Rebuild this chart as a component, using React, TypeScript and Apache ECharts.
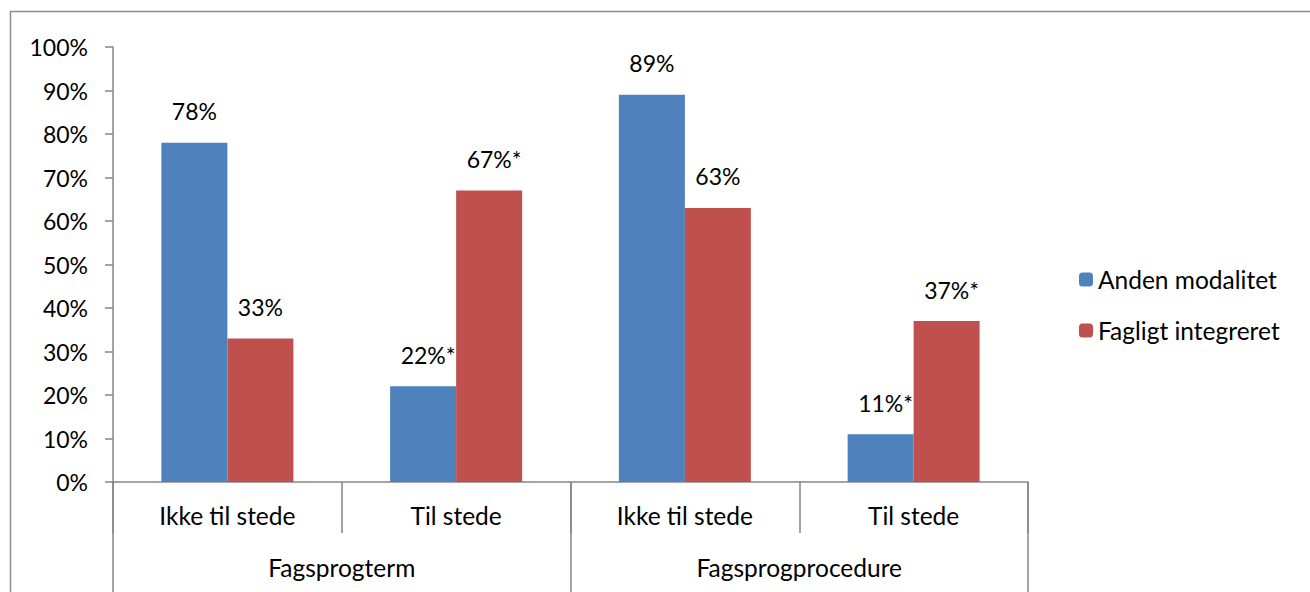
import React, { useEffect, useRef } from "react";
import * as echarts from "echarts";

// Sub-categories on the first axis row, groups on the second row
const subCategories = ["Ikke til stede", "Til stede", "Ikke til stede", "Til stede"];
const groupCategories = ["Fagsprogterm", "Fagsprogprocedure"];

// Share of answers (%) per sub-category
const andenModalitet = [78, 22, 89, 11];
const fagligtIntegreret = [33, 67, 63, 37];

// Significance markers appended to the value labels
const andenModalitetSig = ["", "*", "", "*"];
const fagligtIntegreretSig = ["", "*", "", "*"];

const yTicks = [0, 10, 20, 30, 40, 50, 60, 70, 80, 90, 100];

const FONT = "Lato";
const AXIS_GRAY = "#868686";
const NUM_SIZE = 23;
const WORD_SIZE = 24.5;

export default function App() {
  const ref = useRef<HTMLDivElement>(null);

  useEffect(() => {
    document.body.style.margin = "0";
    if (!ref.current) return;
    const chart = echarts.init(ref.current, undefined, { renderer: "svg" });

    const makeData = (values: number[], marks: string[]) =>
      values.map((v, i) => ({
        value: v,
        label: marks[i] ? { offset: [5, 0] } : {},
      }));

    const makeLabel = (marks: string[]) => ({
      show: true,
      position: "top",
      distance: 20,
      fontFamily: FONT,
      fontSize: NUM_SIZE,
      color: "#000",
      formatter: (p: any) => `${p.value}%${marks[p.dataIndex]}`,
    });

    chart.setOption({
      animation: false,
      textStyle: { fontFamily: FONT },
      graphic: [
        {
          type: "rect",
          silent: true,
          shape: { x: 10.5, y: 11.5, width: 1400, height: 700 },
          style: { fill: "none", stroke: "#8c8c8c", lineWidth: 1.5 },
        },
      ],
      legend: {
        orient: "vertical",
        left: 1079,
        top: 267,
        padding: 0,
        itemWidth: 14,
        itemHeight: 14,
        itemGap: 26,
        textStyle: { fontFamily: FONT, fontSize: WORD_SIZE, color: "#000" },
        data: ["Anden modalitet", "Fagligt integreret"],
      },
      grid: { left: 113, top: 47, right: 282, bottom: 110, containLabel: false },
      yAxis: {
        type: "value",
        min: yTicks[0],
        max: yTicks[yTicks.length - 1],
        interval: 10,
        axisLine: { show: true, lineStyle: { color: AXIS_GRAY, width: 1.5 } },
        axisTick: { show: true, length: 8, lineStyle: { color: AXIS_GRAY, width: 1.5 } },
        splitLine: { show: false },
        axisLabel: {
          margin: 25,
          fontFamily: FONT,
          fontSize: NUM_SIZE,
          color: "#000",
          formatter: (v: number) => `${v}%`,
        },
      },
      xAxis: [
        {
          type: "category",
          data: subCategories,
          position: "bottom",
          boundaryGap: true,
          axisLine: { show: true, lineStyle: { color: AXIS_GRAY, width: 1.5 } },
          axisTick: { show: true, interval: 0, length: 51, lineStyle: { color: AXIS_GRAY, width: 1.5 } },
          axisLabel: { interval: 0, margin: 21, fontFamily: FONT, fontSize: WORD_SIZE, color: "#000" },
        },
        {
          type: "category",
          data: groupCategories,
          position: "bottom",
          boundaryGap: true,
          axisLine: { show: false },
          axisTick: { show: true, interval: 0, length: 110, lineStyle: { color: AXIS_GRAY, width: 1.5 } },
          axisLabel: { interval: 0, margin: 73, fontFamily: FONT, fontSize: WORD_SIZE, color: "#000" },
        },
      ],
      series: [
        {
          name: "Anden modalitet",
          type: "bar",
          xAxisIndex: 0,
          data: makeData(andenModalitet, andenModalitetSig),
          barWidth: 66,
          barGap: "0%",
          itemStyle: { color: "#4F81BD" },
          label: makeLabel(andenModalitetSig),
        },
        {
          name: "Fagligt integreret",
          type: "bar",
          xAxisIndex: 0,
          data: makeData(fagligtIntegreret, fagligtIntegreretSig),
          barWidth: 66,
          barGap: "0%",
          itemStyle: { color: "#C0504D" },
          label: makeLabel(fagligtIntegreretSig),
        },
      ],
    });

    return () => chart.dispose();
  }, []);

  return <div ref={ref} style={{ width: 1310, height: 592 }} />;
}
